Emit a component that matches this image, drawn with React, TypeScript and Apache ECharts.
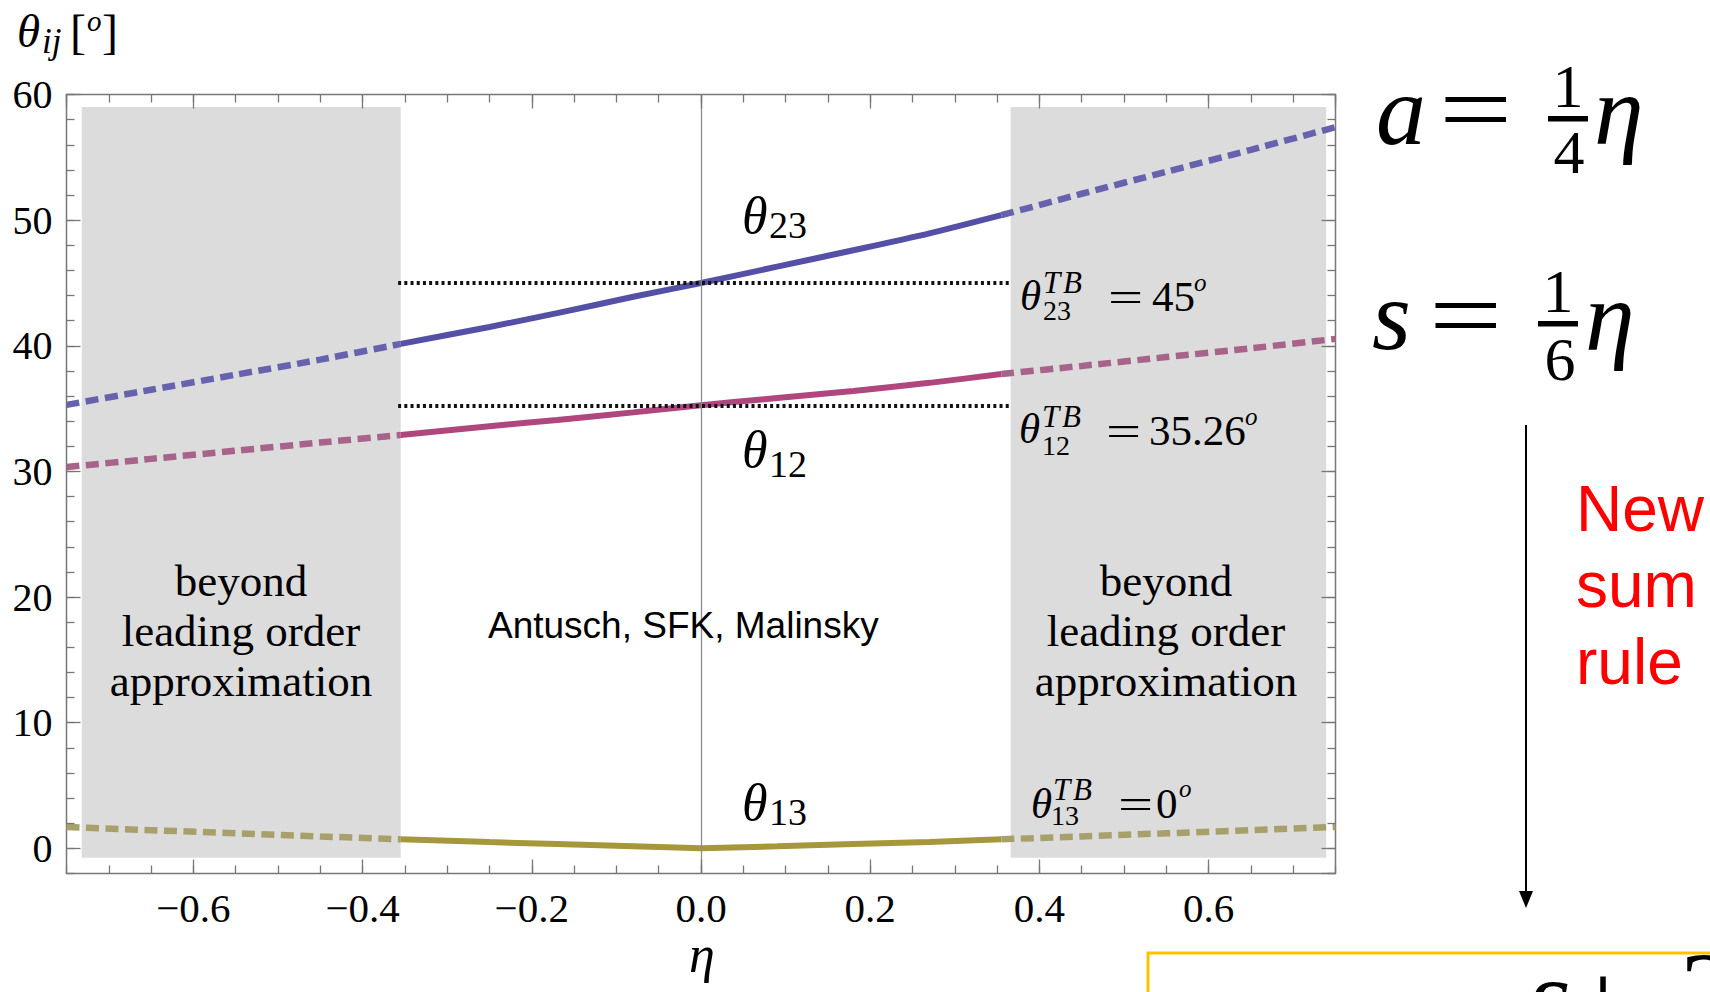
import React, { useEffect, useRef } from "react";
import * as echarts from "echarts";

// ---------------- data ----------------
const eta = [-0.75, -0.65, -0.55, -0.45, -0.355, -0.25, -0.17, -0.08, 0, 0.09, 0.18, 0.27, 0.355, 0.45, 0.55, 0.65, 0.75];
const theta23 = [35.3, 36.5, 37.7, 38.9, 40.15, 41.5, 42.6, 43.9, 45.0, 46.3, 47.6, 48.95, 50.4, 52.1, 53.85, 55.6, 57.4];
const theta12 = [30.35, 31.0, 31.65, 32.3, 32.9, 33.6, 34.1, 34.7, 35.26, 35.85, 36.4, 37.05, 37.75, 38.4, 39.1, 39.8, 40.55];
const theta13 = [1.7, 1.45, 1.2, 0.95, 0.72, 0.5, 0.34, 0.16, 0, 0.16, 0.34, 0.5, 0.72, 0.95, 1.2, 1.45, 1.7];

const xRange = [-0.75, 0.75];
const yRange = [-2, 60];
const xMajorStep = 0.2;
const xMinorStep = 0.05;
const yMajorStep = 10;
const yMinorStep = 2;
const leadingOrder = [-0.355, 0.355];
const grayBandsX = [
  [-0.732, -0.355],
  [0.366, 0.739],
];
const grayBandY = [-0.75, 59];
const tbValues = [45, 35.26];
const tbSpan = [-0.358, 0.366];

// ---------------- styling helpers ----------------
const SERIF = "'Liberation Serif', 'Times New Roman', serif";
const SANS = "'Liberation Sans', Arial, sans-serif";
const FRAME = "#777777";

type TOpt = { italic?: boolean; family?: string; fill?: string; align?: string; sx?: number };
function txt(text: string, x: number, base: number, size: number, o: TOpt = {}) {
  const family = o.family || SERIF;
  return {
    type: "text",
    x,
    y: base - 0.34 * size,
    scaleX: o.sx || 1,
    z: 20,
    silent: true,
    style: {
      text,
      fill: o.fill || "#000",
      fontSize: size,
      fontFamily: family,
      fontStyle: o.italic ? "italic" : "normal",
      font: `${o.italic ? "italic " : ""}${size}px ${family}`,
      align: o.align || "left",
      textAlign: o.align || "left",
      verticalAlign: "middle",
      textVerticalAlign: "middle",
    },
  };
}

function segment(values: number[], lo: number, hi: number) {
  return eta
    .map((e, i) => [e, values[i]])
    .filter(([e]) => e >= lo - 1e-9 && e <= hi + 1e-9);
}

const curves = [
  { values: theta23, solid: "#5450a6", dashed: "#6662ae", smooth: 0.25 },
  { values: theta12, solid: "#b0467e", dashed: "#a8638a", smooth: 0.25 },
  { values: theta13, solid: "#a6973a", dashed: "#a8a06a", smooth: false },
];

function fmtX(v: number) {
  if (Math.abs(v) > 0.71) return "";
  const s = Math.abs(v).toFixed(1);
  return v < -1e-9 ? "\u2212" + s : s;
}

export default function App() {
  const ref = useRef<HTMLDivElement>(null);

  useEffect(() => {
    if (!ref.current) return;
    const chart = echarts.init(ref.current, undefined, { renderer: "svg" });

    const tickStyle = { color: FRAME, width: 1.3 };
    const xBase = {
      type: "value",
      min: xRange[0],
      max: xRange[1],
      splitLine: { show: false },
      axisLine: { show: false, onZero: false },
      z: 5,
    };
    const yBase = {
      type: "value",
      min: yRange[0],
      max: yRange[1],
      splitLine: { show: false },
      axisLine: { show: false, onZero: false },
      z: 5,
    };

    const series: any[] = [];

    // gray "beyond leading order" bands
    series.push({
      type: "line",
      data: [],
      z: 1,
      silent: true,
      markArea: {
        silent: true,
        itemStyle: { color: "#dcdcdc", borderWidth: 0 },
        data: grayBandsX.map(([a, b]) => [
          { xAxis: a, yAxis: grayBandY[0] },
          { xAxis: b, yAxis: grayBandY[1] },
        ]),
      },
    });

    // vertical axis line at eta = 0
    series.push({
      type: "line",
      data: [],
      z: 2,
      silent: true,
      markLine: {
        silent: true,
        symbol: ["none", "none"],
        label: { show: false },
        lineStyle: { color: "#8c8c8c", width: 1.3, type: "solid" },
        data: [{ xAxis: 0 }],
      },
    });

    curves.forEach((c) => {
      const parts = [
        { d: segment(c.values, xRange[0], leadingOrder[0]), dashed: true },
        { d: segment(c.values, leadingOrder[0], leadingOrder[1]), dashed: false },
        { d: segment(c.values, leadingOrder[1], xRange[1]), dashed: true },
      ];
      parts.forEach((p) =>
        series.push({
          type: "line",
          data: p.d,
          showSymbol: false,
          symbol: "none",
          smooth: c.smooth,
          z: 3,
          silent: true,
          emphasis: { disabled: true },
          lineStyle: {
            color: p.dashed ? c.dashed : c.solid,
            width: p.dashed ? 6.5 : 6,
            type: p.dashed ? [13, 6.5] : "solid",
            cap: "butt",
          },
        })
      );
    });

    // tri-bimaximal reference dotted lines
    series.push({
      type: "line",
      data: [],
      z: 4,
      silent: true,
      markLine: {
        silent: true,
        symbol: ["none", "none"],
        label: { show: false },
        lineStyle: { color: "#111", width: 3.8, type: [3, 3.2] },
        data: tbValues.map((v) => [{ coord: [tbSpan[0], v] }, { coord: [tbSpan[1], v] }]),
      },
    });

    const graphic: any[] = [
      // y axis name  θ_ij [o]
      txt("θ", 17, 47, 47, { italic: true }),
      txt("ij", 42, 53, 35, { italic: true }),
      txt("[", 70, 48, 48),
      txt("o", 87, 31, 29, { italic: true }),
      txt("]", 102, 48, 48),
      // x axis name
      txt("η", 702, 972, 52, { italic: true, align: "center" }),
      // curve labels
      txt("θ", 742, 233, 52, { italic: true }),
      txt("23", 769, 238, 38),
      txt("θ", 742, 467, 52, { italic: true }),
      txt("12", 769, 477, 38),
      txt("θ", 742, 820, 52, { italic: true }),
      txt("13", 769, 825, 38),
      // TB values
      txt("θ", 1020, 310, 43, { italic: true }),
      txt("T", 1043, 293, 31, { italic: true }),
      txt("B", 1063, 293, 31, { italic: true }),
      txt("23", 1043, 320, 28),
      txt("=", 1108, 311, 43, { sx: 1.45 }),
      txt("45", 1152, 311, 43),
      txt("o", 1194, 291, 25, { italic: true }),

      txt("θ", 1019, 443, 43, { italic: true }),
      txt("T", 1042, 427, 31, { italic: true }),
      txt("B", 1062, 427, 31, { italic: true }),
      txt("12", 1042, 455, 28),
      txt("=", 1106, 445, 43, { sx: 1.45 }),
      txt("35.26", 1149, 445, 43),
      txt("o", 1245, 425, 25, { italic: true }),

      txt("θ", 1031, 818, 43, { italic: true }),
      txt("T", 1053, 800, 31, { italic: true }),
      txt("B", 1073, 800, 31, { italic: true }),
      txt("13", 1051, 825, 28),
      txt("=", 1118, 818, 43, { sx: 1.45 }),
      txt("0", 1156, 818, 43),
      txt("o", 1179, 797, 25, { italic: true }),

      // beyond leading order approximation
      txt("beyond", 241, 596, 45, { align: "center" }),
      txt("leading order", 241, 646, 45, { align: "center" }),
      txt("approximation", 241, 696, 45, { align: "center" }),
      txt("beyond", 1166, 596, 45, { align: "center" }),
      txt("leading order", 1166, 646, 45, { align: "center" }),
      txt("approximation", 1166, 696, 45, { align: "center" }),

      // credit
      txt("Antusch, SFK, Malinsky", 488, 638, 37, { family: SANS }),

      // a = 1/4 eta
      txt("a", 1376, 144, 100, { italic: true }),
      txt("=", 1439, 143, 100, { sx: 1.3 }),
      txt("1", 1568, 107, 62, { align: "center" }),
      { type: "rect", z: 20, silent: true, shape: { x: 1548, y: 116, width: 40, height: 5.5 }, style: { fill: "#000" } },
      txt("4", 1569, 173, 62, { align: "center" }),
      txt("η", 1594, 144, 100, { italic: true }),

      // s = 1/6 eta
      txt("s", 1372, 349, 100, { italic: true }),
      txt("=", 1429, 349, 100, { sx: 1.3 }),
      txt("1", 1558, 312, 62, { align: "center" }),
      { type: "rect", z: 20, silent: true, shape: { x: 1538, y: 321, width: 40, height: 5.5 }, style: { fill: "#000" } },
      txt("6", 1560, 380, 62, { align: "center" }),
      txt("η", 1585, 350, 100, { italic: true }),

      // arrow
      { type: "line", z: 20, silent: true, shape: { x1: 1526, y1: 425, x2: 1526, y2: 896 }, style: { stroke: "#000", lineWidth: 2 } },
      { type: "polygon", z: 20, silent: true, shape: { points: [[1519, 891], [1533, 891], [1526, 908]] }, style: { fill: "#000" } },

      // New sum rule
      txt("New", 1576, 531, 64, { family: SANS, fill: "#ff0000" }),
      txt("sum", 1576, 607, 64, { family: SANS, fill: "#ff0000" }),
      txt("rule", 1576, 684, 64, { family: SANS, fill: "#ff0000" }),

      // yellow box (cut off at the bottom, as in the source slide)
      { type: "rect", z: 15, silent: true, shape: { x: 1148, y: 953, width: 620, height: 120 }, style: { fill: "#fff", stroke: "#fdc300", lineWidth: 3 } },
      txt("s", 1528, 1034, 110, { italic: true }),
      txt("+", 1572, 1039, 110),
      txt("2", 1680, 1028, 110),
    ];

    const option: any = {
      animation: false,
      backgroundColor: "#fff",
      textStyle: { fontFamily: SERIF },
      grid: {
        left: 66.5,
        right: 374.5,
        top: 94.5,
        bottom: 118.5,
        show: true,
        borderColor: FRAME,
        borderWidth: 1.5,
        backgroundColor: "#fff",
        containLabel: false,
        outerBoundsMode: "none",
      },
      xAxis: [
        {
          ...xBase,
          position: "bottom",
          minInterval: xMajorStep,
          maxInterval: xMajorStep,
          axisTick: { show: true, inside: true, length: 14, lineStyle: tickStyle },
          axisLabel: {
            show: true,
            margin: 14,
            fontSize: 41,
            fontFamily: SERIF,
            color: "#000",
            showMinLabel: false,
            showMaxLabel: false,
            formatter: fmtX,
          },
        },
        {
          ...xBase,
          position: "bottom",
          interval: xMinorStep,
          axisTick: { show: true, inside: true, length: 8, lineStyle: tickStyle },
          axisLabel: { show: false },
        },
        {
          ...xBase,
          position: "top",
          minInterval: xMajorStep,
          maxInterval: xMajorStep,
          axisTick: { show: true, inside: true, length: 14, lineStyle: tickStyle },
          axisLabel: { show: false },
        },
        {
          ...xBase,
          position: "top",
          interval: xMinorStep,
          axisTick: { show: true, inside: true, length: 8, lineStyle: tickStyle },
          axisLabel: { show: false },
        },
      ],
      yAxis: [
        {
          ...yBase,
          position: "left",
          minInterval: yMajorStep,
          maxInterval: yMajorStep,
          axisTick: { show: true, inside: true, length: 14, lineStyle: tickStyle },
          axisLabel: {
            show: true,
            margin: 14,
            fontSize: 40,
            fontFamily: SERIF,
            color: "#000",
            showMinLabel: false,
            formatter: (v: number) => (v < 0 ? "" : String(Math.round(v))),
          },
        },
        {
          ...yBase,
          position: "left",
          interval: yMinorStep,
          axisTick: { show: true, inside: true, length: 8, lineStyle: tickStyle },
          axisLabel: { show: false },
        },
        {
          ...yBase,
          position: "right",
          minInterval: yMajorStep,
          maxInterval: yMajorStep,
          axisTick: { show: true, inside: true, length: 14, lineStyle: tickStyle },
          axisLabel: { show: false },
        },
        {
          ...yBase,
          position: "right",
          interval: yMinorStep,
          axisTick: { show: true, inside: true, length: 8, lineStyle: tickStyle },
          axisLabel: { show: false },
        },
      ],
      series,
      graphic,
    };

    chart.setOption(option);
    return () => {
      chart.dispose();
    };
  }, []);

  return (
    <div
      ref={ref}
      style={{
        position: "fixed",
        left: 0,
        top: 0,
        width: 1710,
        height: 992,
        overflow: "hidden",
        background: "#fff",
      }}
    />
  );
}
